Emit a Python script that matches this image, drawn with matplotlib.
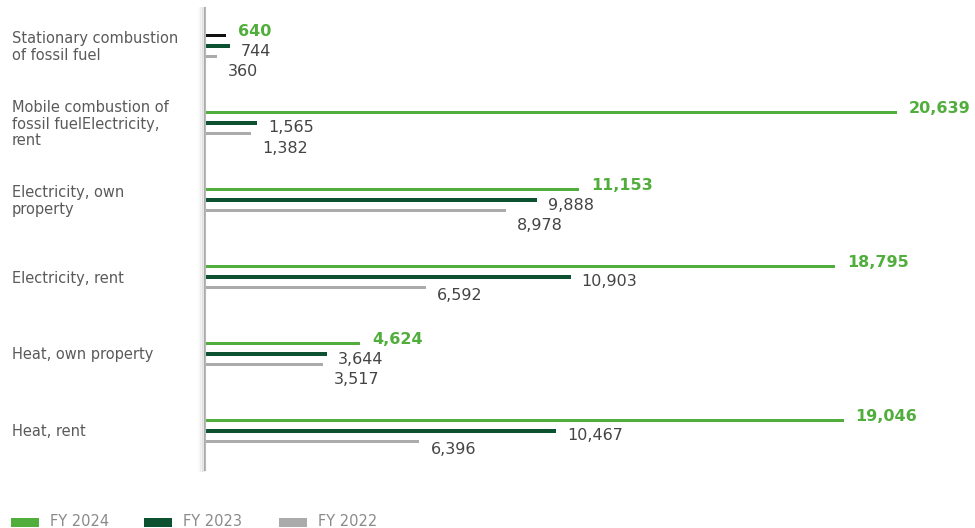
import numpy as np
import matplotlib.pyplot as plt
from matplotlib.patches import Rectangle

# categories, top to bottom
categories = [
    "Stationary combustion\nof fossil fuel",
    "Mobile combustion of\nfossil fuelElectricity,\nrent",
    "Electricity, own\nproperty",
    "Electricity, rent",
    "Heat, own property",
    "Heat, rent",
]
fy2024 = [640, 20639, 11153, 18795, 4624, 19046]
fy2023 = [744, 1565, 9888, 10903, 3644, 10467]
fy2022 = [360, 1382, 8978, 6592, 3517, 6396]
series_names = ["FY 2024", "FY 2023", "FY 2022"]

GREEN = "#52ae3c"
DARK = "#0d5230"
GRAY = "#ababab"
TEXT = "#444444"
# first FY2024 bar is drawn black in the original
fy2024_colors = ["#111111"] + [GREEN] * 5

W, H = 975, 528
fig = plt.figure(figsize=(W / 100, H / 100), dpi=100)
plt.rcParams['font.family'] = ['DejaVu Sans']

# axes: left edge at x=205 px, vertical line spans y 8..470 px
ax = fig.add_axes([205 / W, 1 - 470 / H, (W - 205) / W, (470 - 8) / H])
px_per_group = 77.0
ax.set_ylim(5 + 39 / px_per_group, -38 / px_per_group)
ax.set_xlim(0, 22965)

y = np.arange(len(categories))
off = 10.5 / px_per_group
h = 3.2 / px_per_group

ax.barh(y - off, fy2024, height=h, color=fy2024_colors)
ax.barh(y, fy2023, height=h, color=DARK)
ax.barh(y + off, fy2022, height=h, color=GRAY)

# value labels
to_pt = 72 / 100
for i in range(len(categories)):
    ax.annotate(f"{fy2024[i]:,}", (fy2024[i], y[i] - off), xytext=(12 * to_pt, 4 * to_pt),
                textcoords="offset points", va="center", ha="left",
                fontsize=11.5, fontweight="bold", color=GREEN)
    ax.annotate(f"{fy2023[i]:,}", (fy2023[i], y[i]), xytext=(11 * to_pt, -5 * to_pt),
                textcoords="offset points", va="center", ha="left",
                fontsize=11.5, color=TEXT)
    # gray label drops lower when it would collide with the FY2023 label
    drop = 15 if abs(fy2023[i] - fy2022[i]) < 1500 else 8
    ax.annotate(f"{fy2022[i]:,}", (fy2022[i], y[i] + off), xytext=(11 * to_pt, -drop * to_pt),
                textcoords="offset points", va="center", ha="left",
                fontsize=11.5, color=TEXT)

# category labels on the left, centred on the middle bar of each group
for i, cat in enumerate(categories):
    fig.text(12 / W, 1 - (47 + px_per_group * i) / H, cat, ha="left", va="center",
             fontsize=10.5, color="#5a5a5a", linespacing=1.1)

# axis styling: only the left line
for s in ["top", "right", "bottom"]:
    ax.spines[s].set_visible(False)
ax.spines["left"].set_color("#b8b8b8")
ax.spines["left"].set_linewidth(1.5)
ax.set_xticks([])
ax.set_yticks([])
ax.patch.set_alpha(0)

# soft shadow left of the axis line
for k, a in enumerate([0.08, 0.05, 0.025]):
    fig.add_artist(plt.Line2D([(203 - k * 2) / W] * 2, [1 - 470 / H, 1 - 8 / H],
                              transform=fig.transFigure, color="#000000",
                              alpha=a, lw=2))

# legend at the bottom
legend_colors = [GREEN, DARK, GRAY]
legend_x = [11, 144, 279]
for name, col, lx in zip(series_names, legend_colors, legend_x):
    fig.add_artist(Rectangle((lx / W, 1 - 527 / H), 28 / W, 9 / H,
                             transform=fig.transFigure, color=col, lw=0))
    fig.text((lx + 39) / W, 1 - 522 / H, name, ha="left", va="center",
             fontsize=10.5, color="#8a8a8a")

fig.savefig("out.png", dpi=100)
